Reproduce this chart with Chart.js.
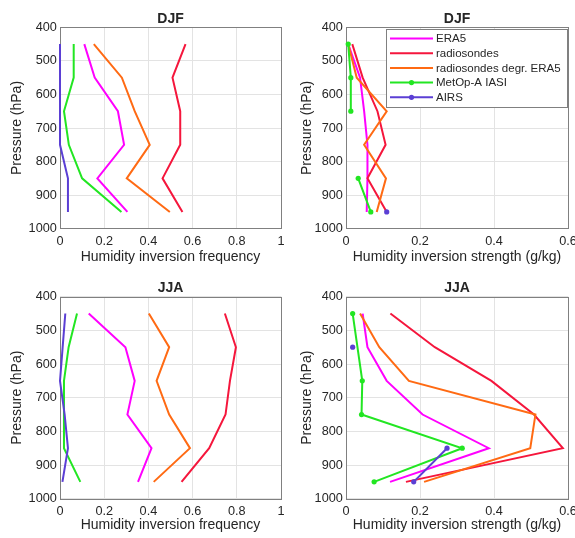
<!DOCTYPE html>
<html>
<head>
<meta charset="utf-8">
<script src="https://cdn.jsdelivr.net/npm/chart.js@4.4.1/dist/chart.umd.min.js"></script>
<style>
  body { margin: 0; background: #fff; }
  #wrap { position: relative; width: 575px; height: 538px; overflow: hidden; }
  canvas { position: absolute; }
</style>
</head>
<body>
<div id="wrap">
  <canvas id="djfFreq" width="290" height="270" style="left:0;top:0"></canvas>
  <canvas id="djfStr" width="285" height="270" style="left:290px;top:0"></canvas>
  <canvas id="jjaFreq" width="290" height="268" style="left:0;top:270px"></canvas>
  <canvas id="jjaStr" width="285" height="268" style="left:290px;top:270px"></canvas>
</div>
<script>
// pressure levels (hPa)
const pressure = [450, 550, 650, 750, 850, 950];

const seriesNames = ["ERA5", "radiosondes", "radiosondes degr. ERA5", "MetOp-A IASI", "AIRS"];
const seriesColors = ["#ff00ff", "#f5163c", "#ff6a13", "#22e622", "#5b3fd4"];

// DJF - inversion frequency
const djfFreqEra5 = [0.11, 0.157, 0.262, 0.29, 0.169, 0.305];
const djfFreqRadio = [0.568, 0.509, 0.544, 0.544, 0.464, 0.554];
const djfFreqDegr = [0.153, 0.28, 0.338, 0.406, 0.302, 0.497];
const djfFreqIasi = [0.062, 0.062, 0.018, 0.04, 0.1, 0.278];
const djfFreqAirs = [0, 0, 0, 0, 0.036, 0.036];

// DJF - inversion strength (g/kg)
const djfStrEra5 = [0.006, 0.038, 0.049, 0.058, 0.058, 0.056];
const djfStrRadio = [0.017, 0.045, 0.085, 0.107, 0.058, 0.11];
const djfStrDegr = [0.006, 0.029, 0.11, 0.049, 0.108, 0.083];
const djfStrIasi = [0.006, 0.013, 0.013, null, 0.033, 0.067];
const djfStrAirs = [null, null, null, null, null, 0.11];

// JJA - inversion frequency
const jjaFreqEra5 = [0.13, 0.296, 0.338, 0.305, 0.414, 0.353];
const jjaFreqRadio = [0.746, 0.796, 0.769, 0.749, 0.675, 0.55];
const jjaFreqDegr = [0.402, 0.494, 0.437, 0.494, 0.588, 0.424];
const jjaFreqIasi = [0.077, 0.039, 0.018, 0.018, 0.018, 0.092];
const jjaFreqAirs = [0.024, 0.012, 0, 0.021, 0.036, 0.011];

// JJA - inversion strength (g/kg)
const jjaStrEra5 = [0.045, 0.058, 0.11, 0.207, 0.386, 0.119];
const jjaStrRadio = [0.12, 0.24, 0.393, 0.508, 0.586, 0.162];
const jjaStrDegr = [0.038, 0.09, 0.17, 0.512, 0.498, 0.211];
const jjaStrIasi = [0.018, null, 0.044, 0.042, 0.314, 0.076];
const jjaStrAirs = [null, 0.018, null, null, 0.273, 0.183];

const textColor = '#262626';
const fontFamily = '"Liberation Sans", Arial, Helvetica, sans-serif';

function drawLegend(chart) {
    const ctx = chart.ctx;
    const a = chart.chartArea;
    const left = 96, top = 29, right = a.right - 1, bottom = 107;
    ctx.fillStyle = '#fff';
    ctx.fillRect(left, top, right - left, bottom - top);
    ctx.strokeStyle = '#808080';
    ctx.lineWidth = 1;
    ctx.strokeRect(left + 0.5, top + 0.5, right - left, bottom - top);
    ctx.font = '11.5px ' + fontFamily;
    ctx.textAlign = 'left';
    ctx.textBaseline = 'middle';
    chart.data.datasets.forEach(function(ds, i) {
        const y = 38.5 + i * 14.7;
        ctx.strokeStyle = ds.borderColor;
        ctx.lineWidth = 2;
        ctx.beginPath();
        ctx.moveTo(100, y);
        ctx.lineTo(143, y);
        ctx.stroke();
        if (ds.pointRadius > 0) {  // marker in the middle of the sample
            ctx.fillStyle = ds.borderColor;
            ctx.beginPath();
            ctx.arc(121.5, y, 2.6, 0, Math.PI * 2);
            ctx.fill();
        }
        ctx.fillStyle = textColor;
        ctx.fillText(ds.label, 146, y + 0.5);
    });
}

// box round the axes, panel title and the legend
const panelDecor = {
    id: 'panelDecor',
    beforeDatasetsDraw(chart) {
        const a = chart.chartArea, ctx = chart.ctx;
        ctx.save();
        ctx.strokeStyle = '#808080';
        ctx.lineWidth = 1;
        ctx.strokeRect(Math.round(a.left) + 0.5, Math.round(a.top) + 0.5,
            Math.round(a.right - a.left), Math.round(a.bottom - a.top));
        ctx.restore();
    },
    afterDatasetsDraw(chart, args, opts) {
        const a = chart.chartArea, ctx = chart.ctx;
        ctx.save();
        ctx.fillStyle = textColor;
        ctx.font = 'bold 14px ' + fontFamily;
        ctx.textAlign = 'center';
        ctx.textBaseline = 'middle';
        ctx.fillText(opts.title, (a.left + a.right) / 2, a.top - 8.5);
        if (opts.legend) drawLegend(chart);
        ctx.restore();
    }
};

function makeDataset(values, idx, markers) {
    const withMarker = markers && idx >= 3;
    return {
        label: seriesNames[idx],
        data: pressure.map(function(p, i) { return { x: values[i], y: p }; }),
        borderColor: seriesColors[idx],
        backgroundColor: seriesColors[idx],
        borderWidth: 2,
        showLine: true,
        pointRadius: withMarker ? 2.6 : 0,
        pointHoverRadius: withMarker ? 2.6 : 0,
        pointBorderWidth: 0,
        spanGaps: false,
        clip: false,
        order: 5 - idx  // later series on top
    };
}

function createPanel(id, seriesList, xMax, xTitle, title, yWidth, topPad, rightPad, xHeight, legend, markers, spanIasi) {
    const datasets = seriesList.map(function(vals, i) { return makeDataset(vals, i, markers); });
    if (spanIasi) datasets[3].spanGaps = true;
    const ctx = document.getElementById(id).getContext('2d');
    new Chart(ctx, {
        type: 'scatter',
        data: { datasets: datasets },
        options: {
            responsive: false,
            animation: false,
            events: [],
            layout: { padding: { top: topPad, right: rightPad, left: 0, bottom: 0 } },
            plugins: {
                legend: { display: false },
                tooltip: { enabled: false },
                panelDecor: { title: title, legend: legend }
            },
            scales: {
                x: {
                    type: 'linear',
                    min: 0,
                    max: xMax,
                    grid: { color: '#e3e3e3', drawTicks: false },
                    border: { display: false },
                    ticks: {
                        stepSize: 0.2,
                        padding: 5,
                        color: textColor,
                        maxRotation: 0,
                        font: { size: 12.7, family: fontFamily },
                        callback: function(v) { return String(Math.round(v * 10) / 10); }
                    },
                    title: {
                        display: true,
                        text: xTitle,
                        color: textColor,
                        padding: { top: 0, bottom: 4.6 },
                        font: { size: 14, family: fontFamily }
                    },
                    afterFit: function(scale) {
                        scale.height = xHeight;
                        scale.paddingLeft = 0;
                        scale.paddingRight = 0;
                    }
                },
                y: {
                    type: 'linear',
                    reverse: true,
                    min: 400,
                    max: 1000,
                    grid: { color: '#e3e3e3', drawTicks: false },
                    border: { display: false },
                    ticks: {
                        stepSize: 100,
                        padding: 3.2,
                        color: textColor,
                        font: { size: 12.7, family: fontFamily },
                        callback: function(v) { return String(v); }
                    },
                    title: {
                        display: true,
                        text: 'Pressure (hPa)',
                        color: textColor,
                        padding: { top: 8.6, bottom: 0 },
                        font: { size: 14, family: fontFamily }
                    },
                    afterFit: function(scale) {
                        scale.width = yWidth;
                        scale.paddingTop = 0;
                        scale.paddingBottom = 0;
                    }
                }
            }
        },
        plugins: [panelDecor]
    });
}

window.onload = function() {
    createPanel('djfFreq', [djfFreqEra5, djfFreqRadio, djfFreqDegr, djfFreqIasi, djfFreqAirs],
        1, 'Humidity inversion frequency', 'DJF', 60, 27.3, 9, 41.3, false, false, false);
    createPanel('djfStr', [djfStrEra5, djfStrRadio, djfStrDegr, djfStrIasi, djfStrAirs],
        0.6, 'Humidity inversion strength (g/kg)', 'DJF', 56, 27.3, 7, 41.3, true, true, false);
    createPanel('jjaFreq', [jjaFreqEra5, jjaFreqRadio, jjaFreqDegr, jjaFreqIasi, jjaFreqAirs],
        1, 'Humidity inversion frequency', 'JJA', 60, 26.7, 9, 39.3, false, false, false);
    createPanel('jjaStr', [jjaStrEra5, jjaStrRadio, jjaStrDegr, jjaStrIasi, jjaStrAirs],
        0.6, 'Humidity inversion strength (g/kg)', 'JJA', 56, 26.7, 7, 39.3, false, true, true);
};
</script>
</body>
</html>
